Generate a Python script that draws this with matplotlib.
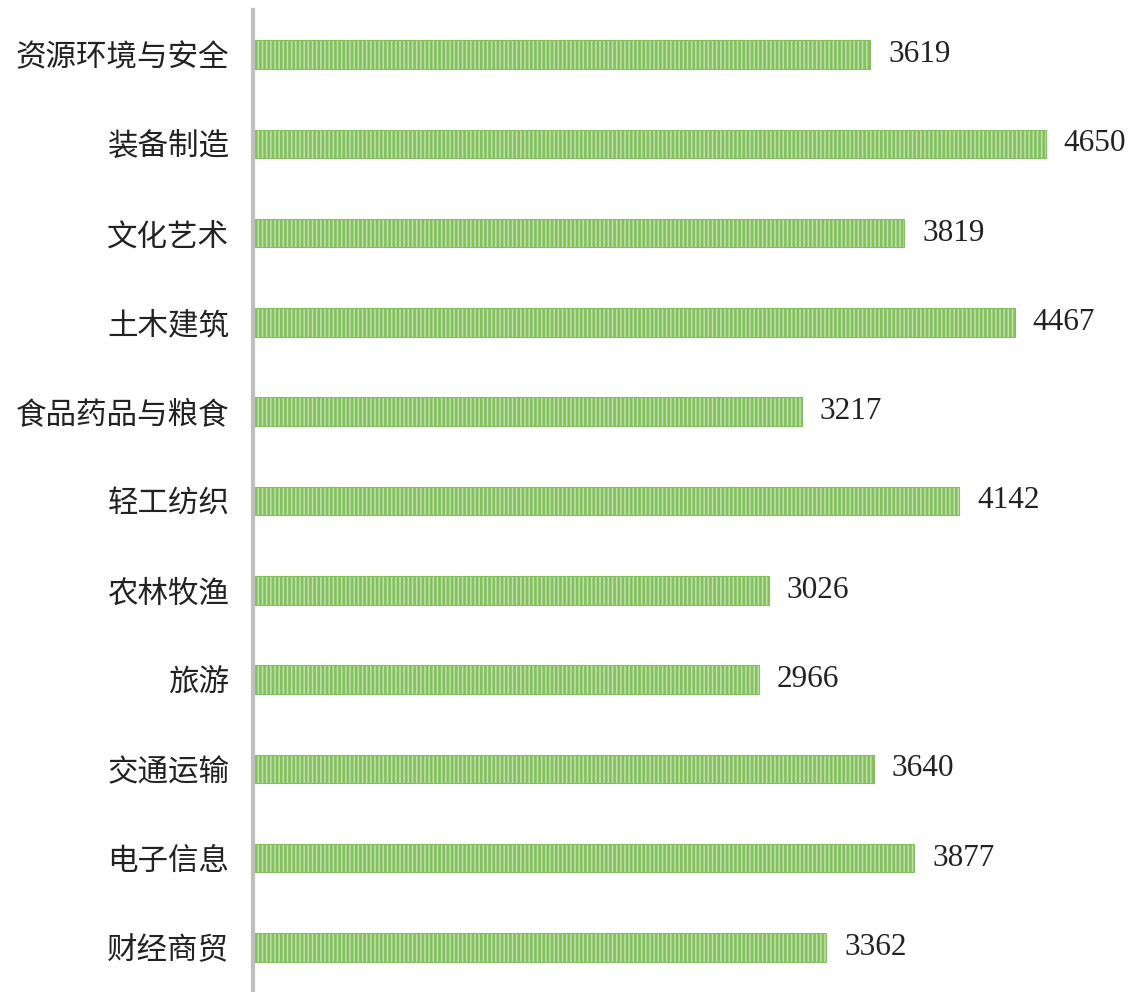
import matplotlib
matplotlib.use('Agg')
import matplotlib.pyplot as plt

categories = ['资源环境与安全', '装备制造', '文化艺术', '土木建筑', '食品药品与粮食',
              '轻工纺织', '农林牧渔', '旅游', '交通运输', '电子信息', '财经商贸']
values = [3619, 4650, 3819, 4467, 3217, 4142, 3026, 2966, 3640, 3877, 3362]

plt.rcParams['font.family'] = ['Noto Sans CJK SC', 'DejaVu Sans']
plt.rcParams['hatch.color'] = '#6cb044'
plt.rcParams['hatch.linewidth'] = 1.9

fig = plt.figure(figsize=(11.32, 9.92), dpi=100)
ax = fig.add_axes([253 / 1132, 0, (1132 - 253) / 1132, 982 / 992])

ypos = list(range(len(categories)))
bars = ax.barh(ypos, values, height=0.32, color='#c0e3aa', edgecolor='#84c060',
               linewidth=0.8, hatch='||||')

for y, v in zip(ypos, values):
    ax.text(v + 105, y, str(v), va='center', ha='left', fontsize=22.5,
            family=['Liberation Serif'], color='#222222')

ax.set_ylim(len(categories) - 0.5, -0.5)
ax.set_xlim(0, 5155)
ax.set_yticks(ypos)
ax.set_yticklabels(categories, fontsize=22, color='#222222')
ax.tick_params(axis='y', length=0, pad=17)
ax.set_xticks([])
for s in ['top', 'right', 'bottom']:
    ax.spines[s].set_visible(False)
ax.spines['left'].set_color('#bfbfbf')
ax.spines['left'].set_linewidth(3)

fig.savefig('out.png', dpi=100)
